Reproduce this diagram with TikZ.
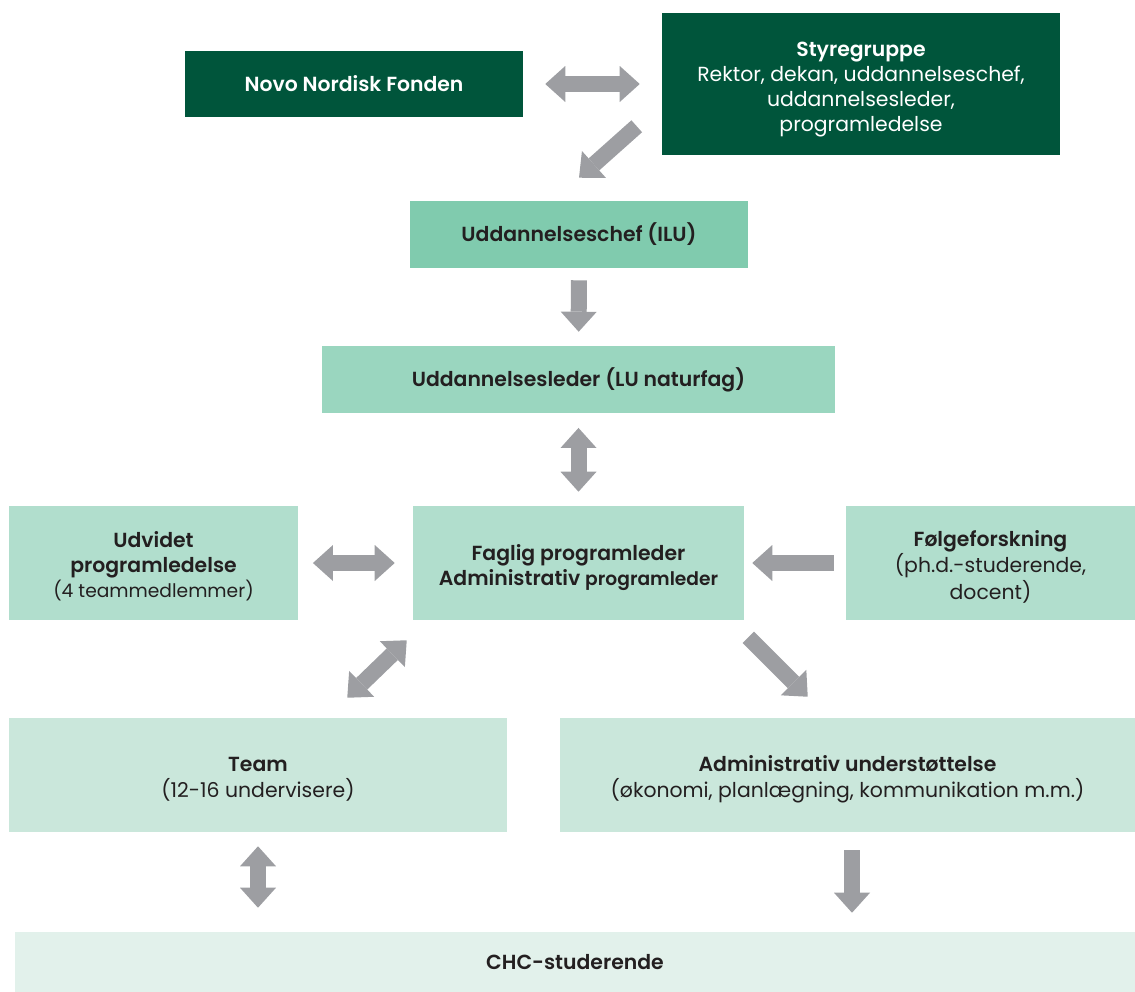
\documentclass[tikz,border=0pt]{standalone}
\usepackage{fontspec}
\setmainfont{Poppins}[BoldFont={Poppins SemiBold}]
\usepackage{tikz}
\usetikzlibrary{arrows.meta, positioning, calc}

\definecolor{darkgreen}{HTML}{00553B}
\definecolor{greenA}{HTML}{80CBAE}
\definecolor{greenB}{HTML}{9AD6BF}
\definecolor{greenC}{HTML}{B1DECD}
\definecolor{greenD}{HTML}{CAE7DB}
\definecolor{greenE}{HTML}{E2F1EB}
\definecolor{arrowgray}{HTML}{9D9EA2}
\definecolor{textdark}{HTML}{231F20}

% multi-line box text, set a little lower in its box
\newcommand{\lowered}[1]{\raisebox{-3.5pt}[\height][\depth]{\begin{tabular}{@{}c@{}}#1\end{tabular}}}

\begin{document}
\begin{tikzpicture}[
    x=0.75pt, y=-0.75pt,
    box/.style={
        rectangle, fill=#1, inner sep=0pt, align=center,
        font=\fontsize{15.3}{18.75}\selectfont, text=textdark
    },
    darkbox/.style={box=darkgreen, text=white},
    fat/.style={-{Triangle[length=15pt, width=27pt, line width=0pt]},
        line width=12pt, draw=arrowgray},
    fatboth/.style={fat, {Triangle[length=15pt, width=27pt, line width=0pt]}-{Triangle[length=15pt, width=27pt, line width=0pt]}}
]
\useasboundingbox (0,0) rectangle (1135,992);

% Top: fonden and styregruppe
\node[darkbox, minimum width=253.5pt, minimum height=49.5pt] (novo) at (354,84)
    {\textbf{Novo Nordisk Fonden}};
\node[darkbox, minimum width=298.5pt, minimum height=106.5pt] (styre) at (861,84)
    {\lowered{\textbf{Styregruppe}\\Rektor, dekan, uddannelseschef,\\uddannelsesleder,\\programledelse}};

% Leaders
\node[box=greenA, minimum width=253.5pt, minimum height=50.25pt] (ilu) at (579,234.5)
    {\textbf{Uddannelseschef (ILU)}};
\node[box=greenB, minimum width=384.75pt, minimum height=50.25pt] (lu) at (578.5,379.5)
    {\textbf{Uddannelsesleder (LU naturfag)}};

% Programme level
\node[box=greenC, minimum width=216.75pt, minimum height=85.5pt] (udvidet) at (153.5,563)
    {\lowered{\textbf{Udvidet}\\\textbf{programledelse}\\{\fontsize{14}{17}\selectfont(4 teammedlemmer)}}};
\node[box=greenC, minimum width=248.25pt, minimum height=85.5pt] (faglig) at (578.5,563)
    {\lowered{\textbf{Faglig programleder}\\\textbf{Administrativ {\fontsize{14}{17}\selectfont programleder}}}};
\node[box=greenC, minimum width=216.75pt, minimum height=85.5pt] (foelge) at (990.5,563)
    {\lowered{\textbf{Følgeforskning}\\(ph.d.-studerende,\\docent)}};

% Team and support
\node[box=greenD, minimum width=373.5pt, minimum height=85.5pt] (team) at (258,775)
    {\lowered{\textbf{Team}\\(12-16 undervisere)}};
\node[box=greenD, minimum width=431.25pt, minimum height=85.5pt] (admin) at (847.5,775)
    {\lowered{\textbf{Administrativ understøttelse}\\(økonomi, planlægning, kommunikation m.m.)}};

% Students
\node[box=greenE, minimum width=840pt, minimum height=45pt] (chc) at (575,962)
    {\textbf{CHC-studerende}};

% Arrows
\draw[fatboth, shorten <=16.5pt, shorten >=16.5pt] (novo) -- (styre);
\draw[fat] ([shift={(-25,-29)}]styre.south west) -- ([shift={(0,-23)}]ilu.north);
\draw[fat, shorten <=9pt, shorten >=10.5pt] (ilu) -- (lu);
\draw[fatboth, shorten <=11pt, shorten >=10.5pt] (lu) -- (faglig);
\draw[fatboth, shorten <=11pt, shorten >=13.5pt] (udvidet) -- (faglig);
\draw[fat, shorten <=9pt, shorten >=6pt] (foelge) -- (faglig);
\draw[fatboth] ([shift={(-6,20)}]faglig.south west) -- ([shift={(-160,-20)}]team.north east);
\draw[fat] ([shift={(4,17)}]faglig.south east) -- ([shift={(248,-21)}]admin.north west);
\draw[fatboth] ([shift={(0,14)}]team.south) -- ([shift={(0,-24)}]team.south |- chc.north);
\draw[fat] ([shift={(4.5,18)}]admin.south) -- ([shift={(4.5,-19)}]admin.south |- chc.north);

\end{tikzpicture}
\end{document}
